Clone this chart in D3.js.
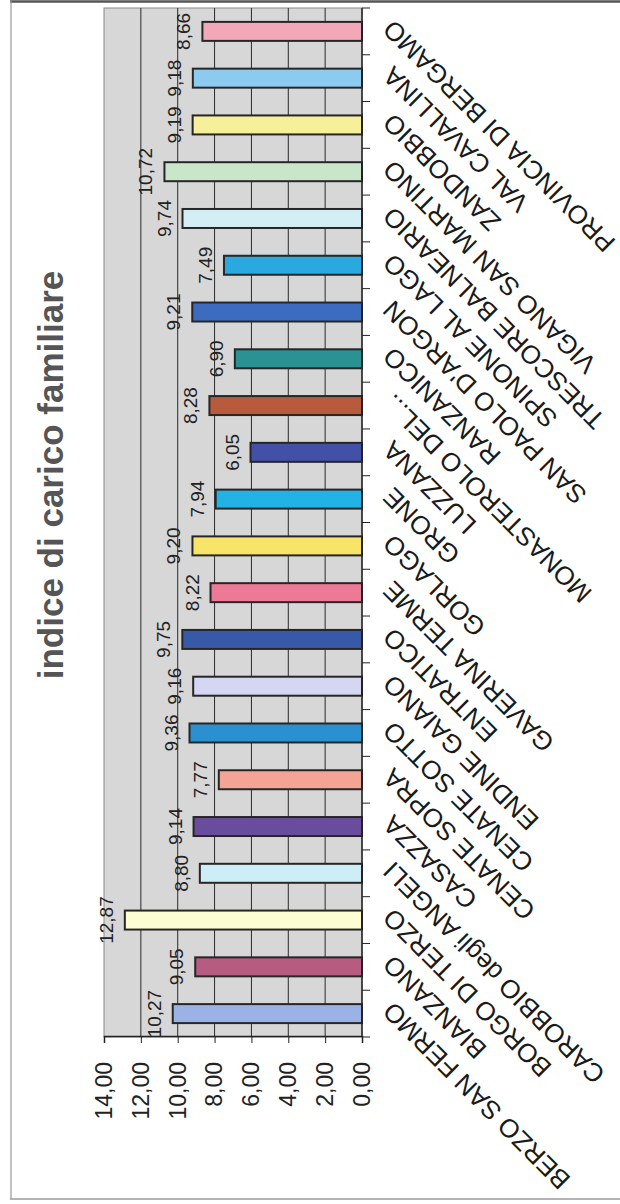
<!DOCTYPE html>
<html>
<head>
<meta charset="utf-8">
<script src="https://cdn.jsdelivr.net/npm/d3@7"></script>
<style>
  html, body { margin: 0; padding: 0; background: #ffffff; }
  svg { display: block; font-family: "Liberation Sans", Arial, sans-serif; }
</style>
</head>
<body>
<svg id="chart" width="620" height="1204"></svg>
<script>
// Comuni (left to right in the chart's own orientation)
const categories = [
  "BERZO SAN FERMO", "BIANZANO", "BORGO DI TERZO", "CAROBBIO degli ANGELI",
  "CASAZZA", "CENATE SOPRA", "CENATE SOTTO", "ENDINE GAIANO", "ENTRATICO",
  "GAVERINA TERME", "GORLAGO", "GRONE", "LUZZANA", "MONASTEROLO DEL...",
  "RANZANICO", "SAN PAOLO D'ARGON", "SPINONE AL LAGO", "TRESCORE BALNEARIO",
  "VIGANO SAN MARTINO", "ZANDOBBIO", "VAL CAVALLINA", "PROVINCIA DI BERGAMO"
];

// Indice di carico familiare per comune
const values = [
  10.27, 9.05, 12.87, 8.80, 9.14, 7.77, 9.36, 9.16, 9.75, 8.22, 9.20,
  7.94, 6.05, 8.28, 6.90, 9.21, 7.49, 9.74, 10.72, 9.19, 9.18, 8.66
];

const barColors = [
  "#9cb2e6", "#b65c80", "#fdfdd4", "#cdeef6", "#6a4c9c", "#f4a494",
  "#2a90d0", "#d4d6f2", "#3858a8", "#ec7a96", "#f8e468", "#22b2e4",
  "#4250a8", "#b85a3c", "#2a9292", "#3c6cc0", "#2aa8e0", "#d4eef6",
  "#cae6ca", "#f6f09a", "#8ccaf0", "#f2a8b8"
];

const tickValues = [0, 2, 4, 6, 8, 10, 12, 14];
const title = "indice di carico familiare";

const fmt = v => d3.format(".2f")(v).replace(".", ",");

const W = 620, H = 1204;
const svg = d3.select("#chart");

// Frame of the chart area
svg.append("line").attr("x1", 10).attr("x2", W).attr("y1", 1.5).attr("y2", 1.5)
  .attr("stroke", "#555").attr("stroke-width", 2.5);
svg.append("line").attr("x1", 11).attr("x2", 11).attr("y1", 1).attr("y2", 1199)
  .attr("stroke", "#9a9a9a").attr("stroke-width", 1.2);
svg.append("line").attr("x1", 10).attr("x2", W).attr("y1", 1199).attr("y2", 1199)
  .attr("stroke", "#9a9a9a").attr("stroke-width", 1.5);

// The column chart is laid out in its own frame (1204 wide, 620 tall)
// and turned a quarter turn counter-clockwise onto the page.
const g = svg.append("g").attr("transform", `translate(0,${H}) rotate(-90)`);

const x = d3.scaleBand()
  .domain(categories)
  .range([167, 1196])
  .paddingInner(0.594)
  .paddingOuter(0.297);

const y = d3.scaleLinear().domain([0, 14]).range([362, 104]);

const color = d3.scaleOrdinal().domain(categories).range(barColors);

// Plot area
g.append("rect")
  .attr("x", x.range()[0]).attr("y", y(14))
  .attr("width", x.range()[1] - x.range()[0]).attr("height", y(0) - y(14))
  .attr("fill", "#d7d7d7")
  .attr("stroke", "#8a8a8a").attr("stroke-width", 1);

// Gridlines
g.append("g").selectAll("line")
  .data(tickValues.filter(t => t > 0 && t < 14))
  .join("line")
  .attr("x1", x.range()[0]).attr("x2", x.range()[1])
  .attr("y1", d => y(d)).attr("y2", d => y(d))
  .attr("stroke", "#2a2a2a").attr("stroke-width", 1);

// Bars
g.append("g").selectAll("rect")
  .data(categories)
  .join("rect")
  .attr("x", d => x(d))
  .attr("y", (d, i) => y(values[i]))
  .attr("width", x.bandwidth())
  .attr("height", (d, i) => y(0) - y(values[i]))
  .attr("fill", d => color(d))
  .attr("stroke", "#262626").attr("stroke-width", 2);

// Value labels
g.append("g").selectAll("text")
  .data(categories)
  .join("text")
  .attr("x", d => x(d) + x.bandwidth() / 2)
  .attr("y", (d, i) => y(values[i]) - 12)
  .attr("text-anchor", "middle")
  .attr("font-size", 19)
  .attr("fill", "#222")
  .text((d, i) => fmt(values[i]));

// Value axis
const yAxis = g.append("g")
  .attr("transform", `translate(${x.range()[0]},0)`)
  .call(d3.axisLeft(y).tickValues(tickValues).tickFormat(fmt).tickSize(6).tickPadding(19));
yAxis.select(".domain").attr("stroke", "#222").attr("stroke-width", 1.5);
yAxis.selectAll(".tick line").attr("stroke", "#222");
yAxis.selectAll(".tick text")
  .attr("font-family", "Liberation Sans, Arial, sans-serif")
  .attr("font-size", 23).attr("fill", "#222");

// Category axis: baseline with tick marks between categories
const catAxis = g.append("g");
catAxis.append("line")
  .attr("x1", x.range()[0]).attr("x2", x.range()[1])
  .attr("y1", y(0)).attr("y2", y(0))
  .attr("stroke", "#222").attr("stroke-width", 1.5);
catAxis.selectAll("line.sep")
  .data(d3.range(categories.length + 1))
  .join("line").attr("class", "sep")
  .attr("x1", i => x.range()[0] + i * x.step())
  .attr("x2", i => x.range()[0] + i * x.step())
  .attr("y1", y(0)).attr("y2", y(0) + 8)
  .attr("stroke", "#222");

catAxis.selectAll("text")
  .data(categories)
  .join("text")
  .attr("transform", d => `translate(${x(d) + x.bandwidth() / 2},${y(0) + 19}) rotate(-45)`)
  .attr("dy", "0.71em")
  .attr("text-anchor", "end")
  .attr("font-size", 26)
  .attr("fill", "#1a1a1a")
  .text(d => d);

// Title
g.append("text")
  .attr("x", 729).attr("y", 63)
  .attr("text-anchor", "middle")
  .attr("font-size", 35).attr("font-weight", "bold")
  .attr("fill", "#555")
  .text(title);
</script>
</body>
</html>
